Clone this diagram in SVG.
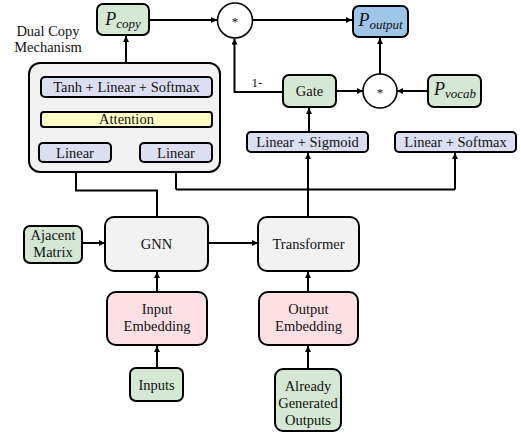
<svg xmlns="http://www.w3.org/2000/svg" width="521" height="433" viewBox="0 0 521 433" font-family="'Liberation Serif', 'Times New Roman', Times, 'DejaVu Serif', serif">
  <defs>
    <marker id="arr" viewBox="0 0 10 10" refX="10" refY="5" markerWidth="6" markerHeight="6" markerUnits="userSpaceOnUse" orient="auto">
      <path d="M0,0 L10,5 L0,10 z" fill="#000"/>
    </marker>
    <style>
      .box { stroke: #000; stroke-width: 2; }
      .green { fill: #d5e8d4; }
      .pink { fill: #fde0e3; }
      .grey { fill: #f2f2f2; }
      .lav { fill: #dcdff2; }
      .yel { fill: #ffffc6; }
      .blue { fill: #9fc5e8; }
      .circ { fill: #fff; stroke: #000; stroke-width: 1.6; }
      text { font-family: 'Liberation Serif', 'Times New Roman', Times, 'DejaVu Serif', serif; font-size: 14.5px; fill: #111; text-anchor: middle; }
      .math { font-style: italic; }
      .sub { font-size: 13px; }
      .star { font-size: 13px; }
      .wire { fill: none; stroke: #000; stroke-width: 2; }
      .arrow { fill: none; stroke: #000; stroke-width: 2; marker-end: url(#arr); }
    </style>
  </defs>

  <!-- connectors -->
  <g id="connectors">
    <!-- GNN output to left Linear -->
    <polyline class="arrow" points="157,217 157,190.5 76,190.5 76,163"/>
    <!-- Transformer output to right Linear, Linear+Sigmoid and Linear+Softmax -->
    <polyline class="wire" points="176,189.5 455,189.5"/>
    <line class="arrow" x1="176" y1="189.5" x2="176" y2="163"/>
    <line class="arrow" x1="455" y1="189.5" x2="455" y2="153"/>
    <line class="arrow" x1="308" y1="217" x2="308" y2="153"/>
    <!-- inside copy mechanism -->
    <line class="arrow" x1="76" y1="143" x2="76" y2="127.5"/>
    <line class="arrow" x1="176" y1="143" x2="176" y2="127.5"/>
    <line class="arrow" x1="126" y1="111.5" x2="126" y2="97.5"/>
    <line class="arrow" x1="126" y1="77" x2="126" y2="36"/>
    <!-- P_copy to first product -->
    <line class="arrow" x1="149" y1="20" x2="217" y2="20"/>
    <!-- first product to P_output -->
    <line class="arrow" x1="253" y1="20" x2="352" y2="20"/>
    <!-- 1 - gate to first product -->
    <polyline class="arrow" points="283,92 234.5,92 234.5,38.5"/>
    <!-- gate and P_vocab to second product -->
    <line class="arrow" x1="336" y1="91" x2="363" y2="91"/>
    <line class="arrow" x1="428" y1="91" x2="397" y2="91"/>
    <line class="arrow" x1="380" y1="74" x2="380" y2="38"/>
    <line class="arrow" x1="309" y1="132" x2="309" y2="108"/>
    <!-- lower stack -->
    <line class="arrow" x1="82" y1="243" x2="105" y2="243"/>
    <line class="arrow" x1="208" y1="243" x2="258" y2="243"/>
    <line class="arrow" x1="157" y1="292" x2="157" y2="272"/>
    <line class="arrow" x1="157" y1="368" x2="157" y2="346"/>
    <line class="arrow" x1="308" y1="292" x2="308" y2="272"/>
    <line class="arrow" x1="308" y1="369" x2="308" y2="346"/>
    <text x="257" y="87" style="font-size:13px">1-</text>
  </g>

  <!-- copy mechanism container -->
  <g id="copy-mechanism">
    <rect class="box grey" x="29" y="63" width="191" height="109" rx="11"/>
    <text x="48" y="36">Dual Copy</text>
    <text x="48" y="52">Mechanism</text>
  </g>

  <g id="tanh-linear-softmax">
    <rect class="box lav" x="41" y="77" width="171" height="20" rx="4"/>
    <text x="126.5" y="92">Tanh + Linear + Softmax</text>
  </g>
  <g id="attention">
    <rect class="box yel" x="41" y="112" width="171" height="15" rx="3"/>
    <text x="126.5" y="124">Attention</text>
  </g>
  <g id="linear-left">
    <rect class="box lav" x="39" y="143" width="72" height="19" rx="4"/>
    <text x="75" y="157.5">Linear</text>
  </g>
  <g id="linear-right">
    <rect class="box lav" x="140" y="143" width="72" height="19" rx="4"/>
    <text x="176" y="157.5">Linear</text>
  </g>

  <g id="p-copy">
    <rect class="box green" x="97" y="4" width="52" height="31" rx="6"/>
    <text class="math" x="123" y="25"><tspan style="font-size:18px">P</tspan><tspan class="sub" dy="3">copy</tspan></text>
  </g>

  <g id="product-1">
    <circle class="circ" cx="235" cy="20.5" r="17.5"/>
    <text class="star" x="235" y="26">*</text>
  </g>

  <g id="p-output">
    <rect class="box blue" x="353" y="6" width="55" height="31" rx="6"/>
    <text class="math" x="380.5" y="26"><tspan style="font-size:18px">P</tspan><tspan class="sub" dy="3">output</tspan></text>
  </g>

  <g id="gate">
    <rect class="box green" x="283" y="75" width="53" height="32" rx="6"/>
    <text x="309.5" y="96">Gate</text>
  </g>

  <g id="product-2">
    <circle class="circ" cx="380" cy="91" r="17"/>
    <text class="star" x="380" y="96.5">*</text>
  </g>

  <g id="p-vocab">
    <rect class="box green" x="428" y="75" width="53" height="32" rx="6"/>
    <text class="math" x="455" y="95"><tspan style="font-size:18px">P</tspan><tspan class="sub" dy="3">vocab</tspan></text>
  </g>

  <g id="linear-sigmoid">
    <rect class="box lav" x="247" y="132" width="121" height="20" rx="4"/>
    <text x="307.5" y="147">Linear + Sigmoid</text>
  </g>

  <g id="linear-softmax">
    <rect class="box lav" x="395" y="132" width="121" height="20" rx="4"/>
    <text x="455.5" y="147">Linear + Softmax</text>
  </g>

  <g id="adjacent-matrix">
    <rect class="box green" x="24" y="226" width="58" height="37" rx="6"/>
    <text x="53" y="240">Ajacent</text>
    <text x="53" y="257">Matrix</text>
  </g>

  <g id="gnn">
    <rect class="box grey" x="105" y="217" width="103" height="54" rx="9"/>
    <text x="156.5" y="249">GNN</text>
  </g>

  <g id="transformer">
    <rect class="box grey" x="258" y="217" width="101" height="54" rx="9"/>
    <text x="308.5" y="249">Transformer</text>
  </g>

  <g id="input-embedding">
    <rect class="box pink" x="107" y="292" width="100" height="53" rx="9"/>
    <text x="157" y="314">Input</text>
    <text x="157" y="331">Embedding</text>
  </g>

  <g id="output-embedding">
    <rect class="box pink" x="259" y="292" width="99" height="53" rx="9"/>
    <text x="308.5" y="314">Output</text>
    <text x="308.5" y="331">Embedding</text>
  </g>

  <g id="inputs">
    <rect class="box green" x="130" y="368" width="53" height="33" rx="6"/>
    <text x="156.5" y="389.5">Inputs</text>
  </g>

  <g id="already-generated-outputs">
    <rect class="box green" x="275" y="369" width="66" height="62" rx="8"/>
    <text x="308" y="391">Already</text>
    <text x="308" y="408">Generated</text>
    <text x="308" y="425">Outputs</text>
  </g>
</svg>
